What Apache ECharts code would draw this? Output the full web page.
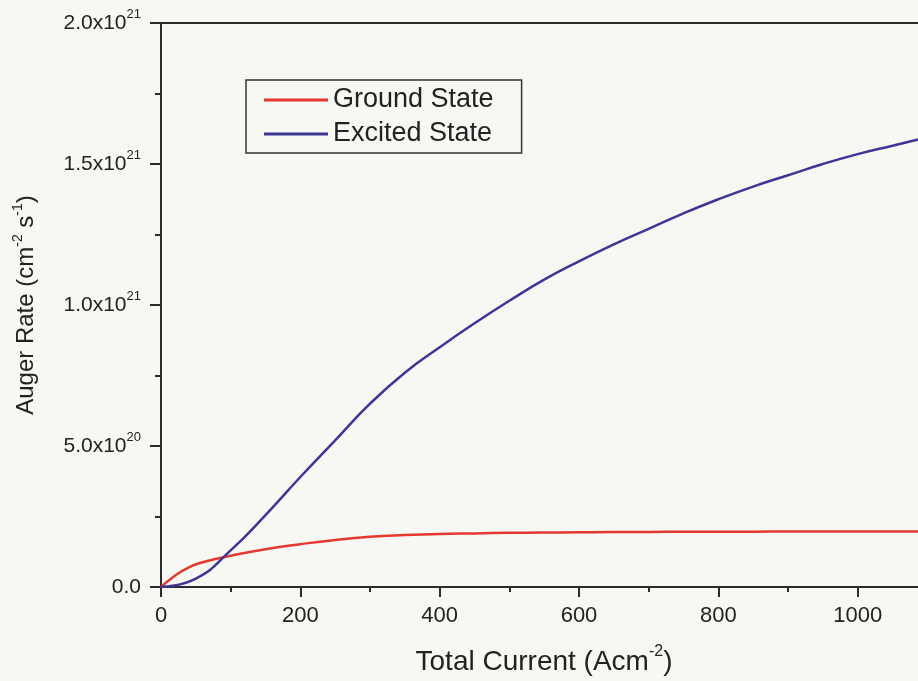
<!DOCTYPE html>
<html>
<head>
    <meta charset="utf-8">
    <title>Auger Rate</title>
    <script src="https://cdn.jsdelivr.net/npm/echarts@6/dist/echarts.min.js"></script>
    <style>
        html, body { margin: 0; padding: 0; background: #f7f7f4; overflow: hidden; }
        /* the plot runs past the right edge of the window, as in the scanned figure */
        #main { width: 1000px; height: 681px; }
    </style>
</head>
<body>
    <div id="main"></div>
    <script>
        // total current, A/cm^2
        var groundCurrent = [0, 20, 40, 60, 80, 100, 150, 200, 250, 300, 350, 400, 450, 500, 550,
            600, 650, 700, 750, 800, 850, 900, 950, 1000, 1050, 1100];
        var excitedCurrent = [0, 50, 100, 150, 200, 250, 300, 350, 400, 450, 500, 550,
            600, 650, 700, 750, 800, 850, 900, 950, 1000, 1050, 1100];
        // auger rate, in units of 1e21 cm^-2 s^-1
        var groundState = [0, 0.04, 0.07, 0.088, 0.1, 0.111, 0.134, 0.152, 0.167, 0.178, 0.184, 0.188,
            0.19, 0.192, 0.193, 0.194, 0.195, 0.195, 0.196, 0.196, 0.196, 0.197, 0.197, 0.197, 0.197, 0.197];
        var excitedState = [0, 0.03, 0.13, 0.255, 0.39, 0.52, 0.65, 0.76, 0.85, 0.935, 1.015, 1.09,
            1.155, 1.215, 1.27, 1.325, 1.375, 1.42, 1.46, 1.5, 1.535, 1.565, 1.595];
        var xTickLabels = ['0', '200', '400', '600', '800', '1000', '1200'];
        var yTickLabels = ['0.0', '5.0x10{sup|20}', '1.0x10{sup|21}', '1.5x10{sup|21}', '2.0x10{sup|21}'];

        function pairs(xs, ys) {
            return xs.map(function (x, i) { return [x, ys[i]]; });
        }

        var chart = echarts.init(document.getElementById('main'));
        var axisColor = '#2b2b2b';
        var font = 'Liberation Sans';

        var option = {
            backgroundColor: '#f7f7f4',
            animation: false,
            grid: {
                left: 161, top: 23, right: 3, bottom: 94,
                outerBoundsMode: 'none',
                show: true, borderColor: axisColor, borderWidth: 2
            },
            legend: {
                orient: 'vertical',
                left: 246, top: 80,
                padding: [5, 28, 4, 18],
                borderColor: '#333', borderWidth: 1.5,
                icon: 'rect',
                itemWidth: 64, itemHeight: 3, itemGap: 4,
                textStyle: { fontFamily: font, fontSize: 27, lineHeight: 30, color: '#222' },
                data: ['Ground State', 'Excited State']
            },
            xAxis: {
                type: 'value', min: 0, max: 1200, interval: 200,
                name: 'Total Current (Acm{sup|-2})',
                nameLocation: 'middle', nameGap: 57,
                nameTextStyle: {
                    fontFamily: font, fontSize: 28, lineHeight: 36, color: '#222',
                    padding: [0, 70, 0, 0],
                    rich: { sup: { fontFamily: font, fontSize: 16, lineHeight: 16, verticalAlign: 'top', color: '#222' } }
                },
                axisLine: { lineStyle: { color: axisColor, width: 2 } },
                axisTick: { length: 10, lineStyle: { width: 2, color: axisColor } },
                minorTick: { show: true, splitNumber: 2, length: 5, lineStyle: { width: 2, color: axisColor } },
                axisLabel: {
                    fontFamily: font, fontSize: 22, lineHeight: 24, color: '#222', margin: 17,
                    formatter: function (v) { return xTickLabels[Math.round(v / 200)]; }
                },
                splitLine: { show: false }
            },
            yAxis: {
                type: 'value', min: 0, max: 2, interval: 0.5,
                name: 'Auger Rate (cm{sup|-2} s{sup|-1})',
                nameLocation: 'middle', nameGap: 120,
                nameTextStyle: {
                    fontFamily: font, fontSize: 24, lineHeight: 30, color: '#222',
                    rich: { sup: { fontFamily: font, fontSize: 14, lineHeight: 14, verticalAlign: 'top', color: '#222' } }
                },
                axisLine: { lineStyle: { color: axisColor, width: 2 } },
                axisTick: { length: 11, lineStyle: { width: 2, color: axisColor } },
                minorTick: { show: true, splitNumber: 2, length: 6, lineStyle: { width: 2, color: axisColor } },
                axisLabel: {
                    fontFamily: font, fontSize: 21, lineHeight: 30, color: '#222', margin: 20,
                    formatter: function (v) { return yTickLabels[Math.round(v / 0.5)]; },
                    rich: { sup: { fontFamily: font, fontSize: 13, lineHeight: 13, verticalAlign: 'top', color: '#222' } }
                },
                splitLine: { show: false }
            },
            series: [
                {
                    name: 'Ground State', type: 'line', data: pairs(groundCurrent, groundState),
                    smooth: true, symbol: 'none',
                    lineStyle: { color: '#e5392f', width: 2.5 },
                    itemStyle: { color: '#e5392f' }
                },
                {
                    name: 'Excited State', type: 'line', data: pairs(excitedCurrent, excitedState),
                    smooth: true, symbol: 'none',
                    lineStyle: { color: '#3d3696', width: 2.5 },
                    itemStyle: { color: '#3d3696' }
                }
            ]
        };

        chart.setOption(option);
    </script>
</body>
</html>
